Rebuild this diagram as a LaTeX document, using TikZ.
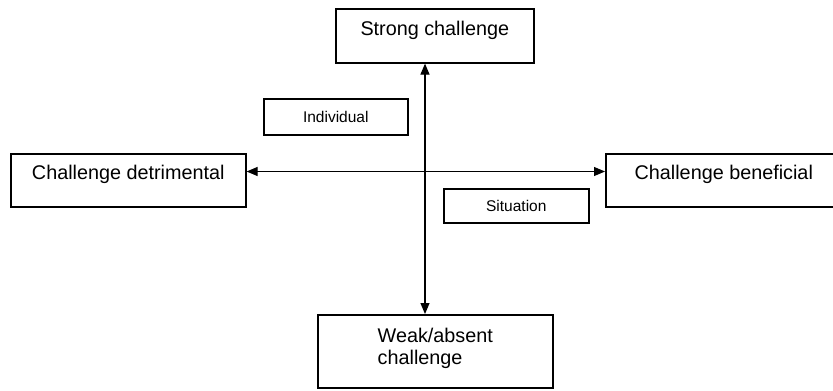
\documentclass[tikz,border=0pt]{standalone}
\usepackage{fontspec}
\setmainfont{Liberation Sans}
\usetikzlibrary{arrows.meta}

\tikzset{
  box/.style={draw, line width=1.6pt, inner sep=0pt, anchor=north west,
    font=\fontsize{19.8}{22}\selectfont},
  smallbox/.style={box, font=\fontsize{15.5}{18}\selectfont},
  axis/.style={line width=1.2pt,
    {Triangle[length=11pt,width=9pt]}-{Triangle[length=11pt,width=9pt]}}
}

\begin{document}
\begin{tikzpicture}[x=1pt,y=-1pt]
\useasboundingbox (0,0) rectangle (833,391);

\node[box, minimum width=198pt, text height=27pt, text depth=27pt] (strong) at (335,8) {Strong challenge};
\node[box, minimum width=235pt, text height=26pt, text depth=27pt] (detr) at (10,153) {Challenge detrimental};
\node[box, minimum width=236pt, text height=26pt, text depth=27pt] (benef) at (605,153) {Challenge beneficial};
\node[box, minimum width=235pt, text height=50pt, text depth=23pt, align=left] (weak) at (317,314) {Weak/absent\\challenge};

\node[smallbox, minimum width=144pt, text height=23.5pt, text depth=12.5pt] (indiv) at (263,98) {Individual};
\node[smallbox, minimum width=145pt, text height=23pt, text depth=11pt] (sit) at (443,188) {Situation};

% axes
\coordinate (cross) at (425,171.5);
\draw[axis] (cross |- strong.south) -- (cross |- weak.north);
\draw[axis] (cross -| detr.east) -- (cross -| benef.west);

\end{tikzpicture}
\end{document}
